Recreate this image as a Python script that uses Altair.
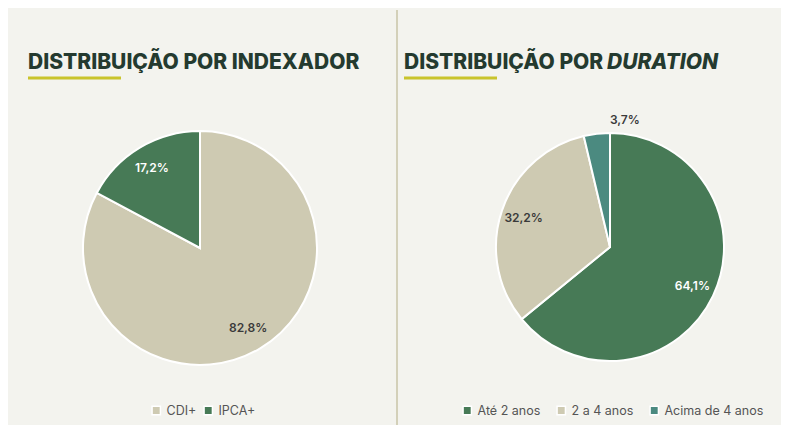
import altair as alt
import pandas as pd

# ---- data ----
idx_cats = ["CDI+", "IPCA+"]
idx_vals = [82.8, 17.2]
idx_labels = ["82,8%", "17,2%"]

dur_cats = ["Até 2 anos", "2 a 4 anos", "Acima de 4 anos"]
dur_vals = [64.1, 32.2, 3.7]
dur_labels = ["64,1%", "32,2%", "3,7%"]

title_left = "DISTRIBUIÇÃO POR INDEXADOR"
title_right_a = "DISTRIBUIÇÃO POR "
title_right_b = "DURATION"

# ---- styles ----
BG = "#f3f3ee"
GREEN = "#477a56"
BEIGE = "#cecab2"
TEAL = "#4b8a80"
DARK = "#243a2f"
YELLOW = "#c9c42c"
FONT = "Inter"

df_idx = pd.DataFrame({"cat": idx_cats, "val": idx_vals, "lab": idx_labels, "o": range(len(idx_cats))})
df_dur = pd.DataFrame({"cat": dur_cats, "val": dur_vals, "lab": dur_labels, "o": range(len(dur_cats))})


def pie(df, cx, cy, R, colors, legend_x, legend_y, col_pad, dark_on):
    base = alt.Chart(df).encode(
        theta=alt.Theta("val:Q", stack=True),
        order=alt.Order("o:Q"),
        x=alt.value(cx),
        y=alt.value(cy),
    )
    arc = base.mark_arc(radius=R, stroke="white", strokeWidth=2).encode(
        color=alt.Color(
            "cat:N",
            scale=alt.Scale(domain=list(df["cat"]), range=colors),
            sort=list(df["cat"]),
            legend=alt.Legend(
                title=None,
                orient="none",
                direction="horizontal",
                legendX=legend_x,
                legendY=legend_y,
                symbolType="square",
                symbolSize=70,
                symbolStrokeColor="white",
                symbolStrokeWidth=1.5,
                symbolOpacity=1,
                labelFont=FONT,
                labelFontSize=12.5,
                labelColor="#555555",
                columnPadding=col_pad,
                labelOffset=4,
                padding=0,
            ),
        )
    )
    text = (
        base.transform_calculate(r=f"datum.val < 5 ? {R + 14} : {R * 0.8}")
        .mark_text(font=FONT, fontSize=12, fontWeight=600)
        .encode(
            text="lab:N",
            radius=alt.Radius("r:Q", scale=None),
            color=alt.condition(
                alt.FieldOneOfPredicate(field="cat", oneOf=dark_on),
                alt.value("white"),
                alt.value("#3a3a3a"),
            ),
        )
    )
    return alt.layer(arc, text)


left = pie(df_idx, 192, 240, 117, [BEIGE, GREEN], 142, 396, 4, ["IPCA+"])
right = pie(df_dur, 602, 239, 114, [GREEN, BEIGE, TEAL], 453, 396, 13, ["Até 2 anos"])

one = alt.Data(values=[{}])

t1 = alt.Chart(one).mark_text(
    font=FONT, fontSize=21, fontWeight=800, color=DARK, align="left", baseline="alphabetic"
).encode(x=alt.value(20), y=alt.value(61), text=alt.value(title_left))
t2 = alt.Chart(one).mark_text(
    font=FONT, fontSize=21, fontWeight=800, color=DARK, align="left", baseline="alphabetic"
).encode(x=alt.value(396), y=alt.value(61), text=alt.value(title_right_a))
t3 = alt.Chart(one).mark_text(
    font=FONT, fontSize=21, fontWeight=800, fontStyle="italic", color=DARK, align="left", baseline="alphabetic"
).encode(x=alt.value(599), y=alt.value(61), text=alt.value(title_right_b))

u1 = alt.Chart(one).mark_rule(color=YELLOW, strokeWidth=3).encode(
    x=alt.value(20), x2=alt.value(113), y=alt.value(70))
u2 = alt.Chart(one).mark_rule(color=YELLOW, strokeWidth=3).encode(
    x=alt.value(396), x2=alt.value(489), y=alt.value(70))
div = alt.Chart(one).mark_rule(color="#d3d0b9", strokeWidth=2).encode(
    x=alt.value(389), y=alt.value(2), y2=alt.value(425))

chart = (
    alt.layer(div, u1, u2, t1, t2, t3, left, right)
    .resolve_scale(theta="independent", color="independent")
    .properties(
        width=773,
        height=417,
        autosize=alt.AutoSizeParams(type="none"),
        padding=0,
        background=BG,
    )
    .configure_view(stroke=None)
)

chart.save("out.html", embed_options={"renderer": "svg", "actions": False})
